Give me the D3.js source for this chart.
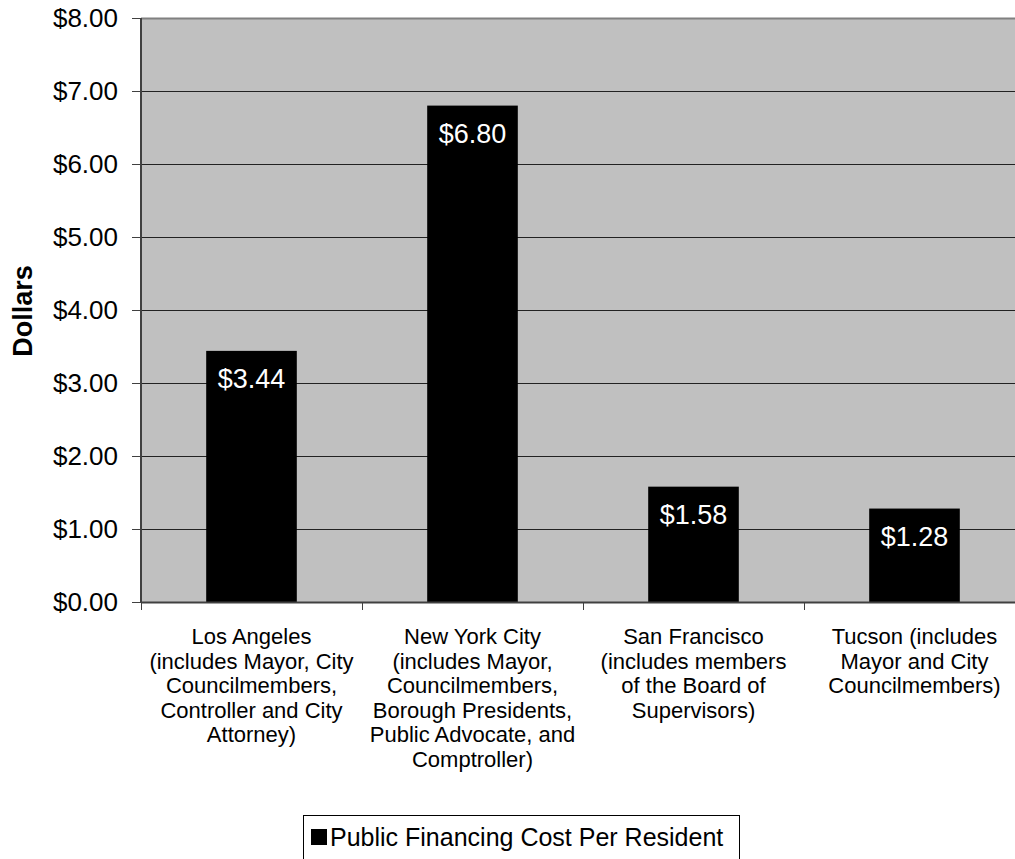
<!DOCTYPE html>
<html>
<head>
<meta charset="utf-8">
<script src="https://cdn.jsdelivr.net/npm/d3@7"></script>
<style>
  body { margin: 0; background: #fff; }
  svg { display: block; font-family: Arial, "Liberation Sans", sans-serif; }
</style>
</head>
<body>
<svg id="chart"></svg>
<script>
(function () {
    const width = 1015;
    const height = 859;

    // data
    const cities = ["Los Angeles", "New York City", "San Francisco", "Tucson"];
    const cityLabels = [
        ["Los Angeles", "(includes Mayor, City", "Councilmembers,", "Controller and City", "Attorney)"],
        ["New York City", "(includes Mayor,", "Councilmembers,", "Borough Presidents,", "Public Advocate, and", "Comptroller)"],
        ["San Francisco", "(includes members", "of the Board of", "Supervisors)"],
        ["Tucson (includes", "Mayor and City", "Councilmembers)"]
    ];
    const costPerResident = [3.44, 6.80, 1.58, 1.28];
    const yTicks = [0, 1, 2, 3, 4, 5, 6, 7, 8];
    const seriesName = "Public Financing Cost Per Resident";

    // plot area (right side runs past the window, as in the original)
    const plot = { left: 141, top: 18, right: 1025, bottom: 602 };

    const svg = d3.select("#chart")
        .attr("width", width)
        .attr("height", height);

    const x = d3.scaleBand()
        .domain(cities)
        .range([plot.left, plot.right])
        .padding(0);

    const barW = x.bandwidth() * 0.41;

    const y = d3.scaleLinear()
        .domain([0, 8])
        .range([plot.bottom, plot.top]);

    // gray background
    svg.append("rect")
        .attr("x", plot.left)
        .attr("y", plot.top)
        .attr("width", plot.right - plot.left)
        .attr("height", plot.bottom - plot.top)
        .attr("fill", "#c0c0c0");

    // gridlines
    svg.append("g")
        .selectAll("line")
        .data(yTicks.filter(d => d > 0 && d < 8))
        .enter().append("line")
        .attr("x1", plot.left)
        .attr("x2", plot.right)
        .attr("y1", d => Math.round(y(d)) + 0.5)
        .attr("y2", d => Math.round(y(d)) + 0.5)
        .attr("stroke", "#222")
        .attr("stroke-width", 1);

    // top border
    svg.append("line")
        .attr("x1", plot.left)
        .attr("x2", plot.right)
        .attr("y1", plot.top + 0.5)
        .attr("y2", plot.top + 0.5)
        .attr("stroke", "#808080")
        .attr("stroke-width", 2);

    // bars
    svg.append("g")
        .selectAll("rect")
        .data(costPerResident)
        .enter().append("rect")
        .attr("x", (d, i) => x(cities[i]) + (x.bandwidth() - barW) / 2)
        .attr("y", d => y(d))
        .attr("width", barW)
        .attr("height", d => y(0) - y(d))
        .attr("fill", "#000");

    // value labels
    svg.append("g")
        .selectAll("text")
        .data(costPerResident)
        .enter().append("text")
        .attr("x", (d, i) => x(cities[i]) + x.bandwidth() / 2)
        .attr("y", d => y(d) + 37)
        .attr("text-anchor", "middle")
        .attr("fill", "#fff")
        .attr("font-size", "27px")
        .text(d => "$" + d.toFixed(2));

    // y axis
    const yAxis = svg.append("g")
        .attr("transform", `translate(${plot.left},0)`)
        .call(d3.axisLeft(y).tickValues(yTicks).tickSize(9).tickPadding(14)
            .tickFormat(d => "$" + d3.format(".2f")(d)));
    yAxis.select(".domain").attr("stroke", "#404040").attr("stroke-width", 2)
        .attr("d", `M0,${plot.top}V${plot.bottom}`);
    yAxis.selectAll(".tick line").attr("stroke", "#404040").attr("stroke-width", 1);
    yAxis.selectAll(".tick text")
        .attr("font-size", "26px")
        .attr("font-family", "Arial, 'Liberation Sans', sans-serif")
        .attr("fill", "#000");

    // x axis
    const xAxis = svg.append("g")
        .attr("transform", `translate(0,${plot.bottom})`)
        .call(d3.axisBottom(x).tickValues([]).tickSizeOuter(0));
    xAxis.select(".domain").attr("stroke", "#404040").attr("stroke-width", 2);

    // category separators
    svg.append("g")
        .selectAll("line")
        .data(cities)
        .enter().append("line")
        .attr("x1", d => Math.round(x(d)) + 0.5)
        .attr("x2", d => Math.round(x(d)) + 0.5)
        .attr("y1", plot.bottom)
        .attr("y2", plot.bottom + 8)
        .attr("stroke", "#404040");

    // category labels
    const catLabels = svg.append("g")
        .selectAll("text")
        .data(cityLabels)
        .enter().append("text")
        .attr("text-anchor", "middle")
        .attr("font-size", "22px")
        .attr("fill", "#000");
    catLabels.each(function (lines, i) {
        const cx = x(cities[i]) + x.bandwidth() / 2;
        d3.select(this).selectAll("tspan")
            .data(lines)
            .enter().append("tspan")
            .attr("x", cx)
            .attr("y", (d, j) => 644 + j * 24.6)
            .text(d => d);
    });

    // y axis title
    svg.append("text")
        .attr("transform", "translate(32,311) rotate(-90)")
        .attr("text-anchor", "middle")
        .attr("font-size", "27px")
        .attr("font-weight", "bold")
        .text("Dollars");

    // legend
    const legend = svg.append("g");
    legend.append("rect")
        .attr("x", 303.5)
        .attr("y", 815.5)
        .attr("width", 436)
        .attr("height", 60)
        .attr("fill", "#fff")
        .attr("stroke", "#000")
        .attr("stroke-width", 1);
    legend.append("rect")
        .attr("x", 311)
        .attr("y", 829)
        .attr("width", 16)
        .attr("height", 16)
        .attr("fill", "#000");
    legend.append("text")
        .attr("x", 330)
        .attr("y", 846)
        .attr("font-size", "25px")
        .text(seriesName);
})();
</script>
</body>
</html>
